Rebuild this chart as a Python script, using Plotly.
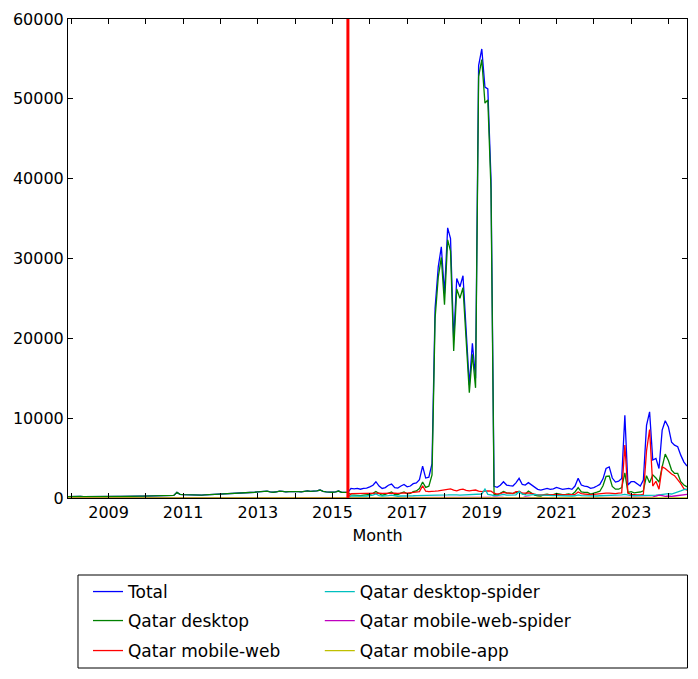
import pandas as pd
import plotly.graph_objects as go

# Months: Dec 2007 .. Jul 2024
months = pd.date_range("2007-12-01", periods=200, freq="MS")

total = [
    180,
    200, 210, 190, 200, 180, 190, 170, 180, 200, 190, 180, 200,
    220, 230, 210, 200, 190, 210, 220, 200, 230, 250, 240, 230,
    240, 260, 250, 230, 220, 240, 260, 280, 300, 320, 700, 450,
    420, 400, 380, 350, 330, 340, 360, 380, 400, 390, 420, 430,
    450, 470, 500, 480, 520, 560, 600, 620, 640, 680, 700, 720,
    760, 800, 900, 850, 780, 720, 780, 850, 820, 760, 800, 830,
    850, 800, 760, 820, 880, 840, 860, 900, 1000, 820, 760, 720,
    720, 760, 870, 700, 720, 700, 1200, 1150, 1200, 1100, 1200, 1250,
    1400, 1600, 2040, 1500, 1200, 1300, 1600, 1750, 1300, 1250, 1500, 1700,
    1400, 1500, 1800, 1900, 2300, 4000, 2500, 2600, 4300, 23750, 28960, 31460,
    25600, 33840, 32500, 19790, 27500, 26460, 27840, 21000, 14160, 19380, 15000, 54160,
    56250, 51460, 51250, 40000, 1460, 1330, 1600, 2040, 1625, 1550, 1500, 1900,
    2460, 1700, 1625, 1920, 1625, 1300, 1080, 1000, 1150, 1200, 1080, 1150,
    1330, 1200, 1080, 1150, 1200, 1080, 1500, 2460, 1620, 1500, 1420, 1200,
    1300, 1500, 1700, 2400, 3700, 3900, 2500, 2000, 2100, 2460, 10370, 1625,
    2040, 2040, 1830, 1500, 2250, 9100, 10800, 4750, 4960, 3700, 8500, 9670,
    8900, 7000, 6620, 6420, 5370, 4500, 4000,
]

desktop = [
    180,
    200, 210, 190, 200, 180, 190, 170, 180, 200, 190, 180, 200,
    220, 230, 210, 200, 190, 210, 220, 200, 230, 250, 240, 230,
    240, 260, 250, 230, 220, 240, 260, 280, 300, 320, 700, 450,
    420, 400, 380, 350, 330, 340, 360, 380, 400, 390, 420, 430,
    450, 470, 500, 480, 520, 560, 600, 620, 640, 680, 700, 720,
    760, 800, 900, 850, 780, 720, 780, 850, 820, 760, 800, 830,
    850, 800, 760, 820, 880, 840, 860, 900, 1000, 820, 760, 720,
    720, 760, 870, 700, 720, 700, 390, 350, 360, 310, 360, 370,
    450, 590, 820, 560, 350, 450, 630, 760, 430, 430, 610, 750,
    530, 570, 800, 880, 1180, 2000, 1330, 1480, 2900, 22530, 27660, 30130,
    24220, 32330, 30920, 18410, 26190, 25020, 26330, 19620, 13200, 18000, 13800, 52780,
    54920, 49460, 49860, 38690, 440, 380, 560, 830, 635, 560, 570, 670,
    840, 520, 475, 880, 645, 370, 280, 250, 430, 480, 400, 430,
    560, 480, 410, 460, 520, 430, 750, 1290, 750, 700, 700, 500,
    570, 730, 850, 1530, 2700, 2750, 1450, 1100, 1100, 1300, 3150, 700,
    800, 650, 700, 750, 900, 2800, 1900, 2900, 2500, 2000, 3900, 5500,
    4700, 3500, 3080, 3080, 2040, 1620, 1400,
]

mobile_web = [
    0,
    0, 0, 0, 0, 0, 0, 0, 0, 0, 0, 0, 0,
    0, 0, 0, 0, 0, 0, 0, 0, 0, 0, 0, 0,
    0, 0, 0, 0, 0, 0, 0, 0, 0, 0, 0, 0,
    0, 0, 0, 0, 0, 0, 0, 0, 0, 0, 0, 0,
    0, 0, 0, 0, 0, 0, 0, 0, 0, 0, 0, 0,
    0, 0, 0, 0, 0, 0, 0, 0, 0, 0, 0, 0,
    0, 0, 0, 0, 0, 0, 0, 0, 0, 0, 0, 0,
    0, 0, 0, 0, 0, 0, 550, 560, 580, 560, 600, 620,
    650, 640, 700, 620, 580, 600, 650, 620, 600, 580, 620, 650,
    600, 650, 700, 700, 800, 1540, 850, 800, 800, 850, 900, 950,
    1000, 1100, 1150, 1000, 900, 1050, 1100, 950, 900, 950, 1000, 850,
    800, 850, 900, 850, 600, 500, 550, 700, 600, 600, 550, 800,
    800, 650, 600, 650, 550, 450, 400, 380, 400, 400, 380, 400,
    450, 420, 400, 420, 400, 380, 450, 750, 550, 500, 450, 420,
    450, 500, 550, 550, 600, 600, 550, 550, 600, 650, 6620, 600,
    450, 400, 380, 400, 450, 5900, 8580, 1500, 2100, 1100, 3900, 3700,
    3300, 3000, 2800, 2300, 1800, 1150, 1000,
]

desktop_spider = [
    0,
    0, 0, 0, 0, 0, 0, 0, 0, 0, 0, 0, 0,
    0, 0, 0, 0, 0, 0, 0, 0, 0, 0, 0, 0,
    0, 0, 0, 0, 0, 0, 0, 0, 0, 0, 0, 0,
    0, 0, 0, 0, 0, 0, 0, 0, 0, 0, 0, 0,
    0, 0, 0, 0, 0, 0, 0, 0, 0, 0, 0, 0,
    0, 0, 0, 0, 0, 0, 0, 0, 0, 0, 0, 0,
    0, 0, 0, 0, 0, 0, 0, 0, 0, 0, 0, 0,
    0, 0, 0, 0, 0, 0, 250, 230, 250, 220, 230, 250,
    280, 350, 500, 300, 250, 230, 300, 350, 250, 220, 250, 280,
    250, 260, 280, 300, 300, 320, 300, 300, 320, 350, 380, 360,
    350, 380, 400, 350, 380, 360, 380, 400, 380, 400, 420, 500,
    500, 1120, 450, 400, 300, 300, 400, 450, 350, 350, 350, 400,
    790, 500, 400, 350, 400, 450, 380, 350, 300, 300, 280, 300,
    300, 280, 250, 250, 260, 250, 280, 400, 300, 280, 250, 260,
    260, 250, 280, 300, 320, 300, 280, 300, 350, 400, 450, 350,
    300, 280, 280, 300, 300, 300, 300, 350, 350, 400, 450, 450,
    550, 500, 600, 700, 900, 1050, 1100,
]

mobile_web_spider = [
    0,
    0, 0, 0, 0, 0, 0, 0, 0, 0, 0, 0, 0,
    0, 0, 0, 0, 0, 0, 0, 0, 0, 0, 0, 0,
    0, 0, 0, 0, 0, 0, 0, 0, 0, 0, 0, 0,
    0, 0, 0, 0, 0, 0, 0, 0, 0, 0, 0, 0,
    0, 0, 0, 0, 0, 0, 0, 0, 0, 0, 0, 0,
    0, 0, 0, 0, 0, 0, 0, 0, 0, 0, 0, 0,
    0, 0, 0, 0, 0, 0, 0, 0, 0, 0, 0, 0,
    0, 0, 0, 0, 0, 0, 10, 10, 10, 10, 10, 10,
    20, 20, 20, 20, 20, 20, 20, 20, 20, 20, 20, 20,
    20, 20, 20, 20, 20, 20, 20, 20, 20, 20, 30, 30,
    30, 30, 30, 30, 30, 30, 30, 30, 30, 30, 30, 30,
    30, 30, 40, 60, 120, 150, 90, 60, 40, 40, 30, 30,
    30, 30, 150, 40, 30, 30, 20, 20, 20, 20, 20, 20,
    20, 20, 20, 20, 20, 20, 20, 20, 20, 20, 20, 20,
    20, 20, 20, 20, 20, 20, 20, 20, 20, 20, 30, 30,
    30, 30, 40, 40, 50, 60, 80, 100, 250, 350, 300, 200,
    250, 200, 250, 300, 350, 400, 450,
]

mobile_app = [
    0,
    0, 0, 0, 0, 0, 0, 0, 0, 0, 0, 0, 0,
    0, 0, 0, 0, 0, 0, 0, 0, 0, 0, 0, 0,
    0, 0, 0, 0, 0, 0, 0, 0, 0, 0, 0, 0,
    0, 0, 0, 0, 0, 0, 0, 0, 0, 0, 0, 0,
    0, 0, 0, 0, 0, 0, 0, 0, 0, 0, 0, 0,
    0, 0, 0, 0, 0, 0, 0, 0, 0, 0, 0, 0,
    0, 0, 0, 0, 0, 0, 0, 0, 0, 0, 0, 0,
    0, 0, 0, 0, 0, 0, 0, 0, 0, 0, 0, 0,
    0, 0, 0, 0, 0, 0, 0, 0, 0, 0, 0, 0,
    0, 0, 0, 0, 0, 0, 0, 0, 0, 0, 0, 0,
    0, 0, 0, 0, 0, 0, 0, 0, 0, 0, 0, 0,
    0, 0, 0, 0, 0, 0, 0, 0, 0, 0, 0, 0,
    0, 0, 0, 0, 0, 0, 0, 0, 0, 0, 0, 0,
    0, 0, 0, 0, 0, 0, 0, 0, 0, 0, 0, 0,
    0, 0, 0, 0, 0, 0, 0, 0, 0, 0, 0, 0,
    0, 0, 0, 0, 0, 0, 0, 0, 0, 0, 0, 0,
    0, 0, 0, 0, 0, 0, 0,
]

marker_month = "2015-06-01"

series_names = ["Total", "Qatar desktop", "Qatar mobile-web",
                "Qatar desktop-spider", "Qatar mobile-web-spider", "Qatar mobile-app"]
series_values = [total, desktop, mobile_web, desktop_spider, mobile_web_spider, mobile_app]
series_colors = ["#0000ff", "#008000", "#ff0000", "#00bfbf", "#bf00bf", "#bfbf00"]

FONT = "DejaVu Sans"

# plot area in pixels (for placing the legend entries)
PL, PR, PT, PB = 68, 687.5, 19, 498
PW, PH = PR - PL, PB - PT


def px_to_paper_x(px):
    return (px - PL) / PW


def px_to_paper_y(py):
    return (PB - py) / PH


legend_cols_px = [88, 320]
legend_rows_px = [592, 621, 651]

fig = go.Figure()
legend_layouts = {}
for k, (name, vals, color) in enumerate(zip(series_names, series_values, series_colors)):
    key = "legend" if k == 0 else f"legend{k + 1}"
    col, row = divmod(k, 3)
    fig.add_trace(go.Scatter(
        x=months, y=vals, mode="lines", name=name,
        line=dict(color=color, width=1.3),
        legend=key,
    ))
    legend_layouts[key] = dict(
        x=px_to_paper_x(legend_cols_px[col]), y=px_to_paper_y(legend_rows_px[row]),
        xanchor="left", yanchor="middle",
        orientation="v", borderwidth=0, bgcolor="rgba(0,0,0,0)",
        font=dict(family=FONT, size=17, color="black"),
    )

fig.add_shape(type="line", xref="x", yref="paper",
              x0=marker_month, x1=marker_month, y0=0, y1=1,
              line=dict(color="#ff0000", width=3), layer="above")

# legend frame
fig.add_shape(type="rect", xref="paper", yref="paper",
              x0=px_to_paper_x(78), x1=px_to_paper_x(688),
              y0=px_to_paper_y(668), y1=px_to_paper_y(575),
              line=dict(color="black", width=1), fillcolor="rgba(0,0,0,0)")

fig.update_layout(
    width=698, height=679,
    margin=dict(l=PL, r=698 - PR, t=PT, b=679 - PB, pad=0),
    paper_bgcolor="white", plot_bgcolor="white",
    font=dict(family=FONT, size=16, color="black"),
    showlegend=True,
    xaxis=dict(
        range=[months[0], months[-1]],
        tick0="2009-01-01", dtick="M24", tickformat="%Y",
        ticks="inside", ticklen=5, tickcolor="black",
        showline=True, linecolor="black", linewidth=1, mirror="ticks",
        showgrid=False, zeroline=False,
        minor=dict(dtick="M12", tick0="2008-01-01", ticks="inside", ticklen=5,
                   tickcolor="black", showgrid=False),
        title=dict(text="Month", font=dict(family=FONT, size=16), standoff=8),
        tickfont=dict(family=FONT, size=16),
    ),
    yaxis=dict(
        range=[0, 60000], dtick=10000, tickformat="d",
        ticks="inside", ticklen=5, tickcolor="black",
        showline=True, linecolor="black", linewidth=1, mirror="ticks",
        showgrid=False, zeroline=False,
        tickfont=dict(family=FONT, size=16),
    ),
    **legend_layouts,
)

fig.write_html("out.html")
